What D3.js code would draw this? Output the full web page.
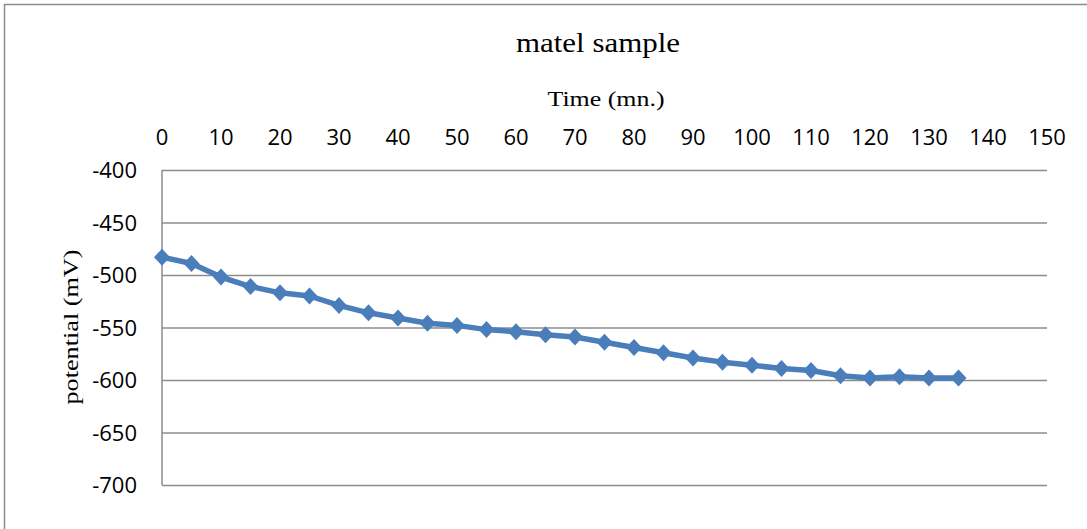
<!DOCTYPE html>
<html>
<head>
<meta charset="utf-8">
<script src="https://cdn.jsdelivr.net/npm/d3@7"></script>
<style>
  body { margin: 0; background: #fff; }
  svg { display: block; }
</style>
</head>
<body>
<svg id="chart"></svg>
<script>
// time (mn.) and measured potential (mV)
const times = [0, 5, 10, 15, 20, 25, 30, 35, 40, 45, 50, 55, 60, 65, 70,
  75, 80, 85, 90, 95, 100, 105, 110, 115, 120, 125, 130, 135];
const potentials = [-483, -489, -502, -511, -517, -520, -529, -536, -541, -546, -548, -552, -554, -557, -559,
  -564, -569, -574, -579, -583, -586, -589, -591, -596, -598, -597, -598, -598];
const xTicks = d3.range(0, 151, 10);
const yTicks = [-400, -450, -500, -550, -600, -650, -700];

const W = 1087, H = 529;
const plot = {left: 162, right: 1047, top: 170, bottom: 485};
const color = {grid: '#8c8c8c', line: '#4a7ebb', text: '#000'};

const svg = d3.select('#chart').attr('width', W).attr('height', H);

// chart frame
svg.append('rect')
    .attr('x', 4.5).attr('y', 4.5)
    .attr('width', W + 10).attr('height', H + 10)
    .attr('fill', 'none')
    .attr('stroke', color.grid)
    .attr('stroke-width', 1.5);

const x = d3.scaleLinear().domain([0, 150]).range([plot.left, plot.right]);
const y = d3.scaleLinear().domain([-700, -400]).range([plot.bottom, plot.top]);

// horizontal grid lines
svg.append('g')
    .attr('transform', `translate(${plot.left},0)`)
    .call(d3.axisLeft(y).tickValues(yTicks).tickSize(-(plot.right - plot.left)).tickFormat(''))
    .call(g => g.select('.domain').remove())
    .call(g => g.selectAll('line').attr('stroke', color.grid).attr('stroke-width', 1.5));

// y axis line
svg.append('line')
    .attr('x1', plot.left).attr('x2', plot.left)
    .attr('y1', plot.top).attr('y2', plot.bottom)
    .attr('stroke', color.grid).attr('stroke-width', 1.5);

// y tick labels
svg.append('g')
    .selectAll('text')
    .data(yTicks)
    .enter()
    .append('text')
    .attr('x', 137)
    .attr('y', d => y(d) + 8)
    .attr('text-anchor', 'end')
    .style('font-family', '"Open Sans", sans-serif')
    .style('font-size', '22px')
    .attr('fill', color.text)
    .text(d => d);

// x tick labels (axis drawn at top, labels only)
svg.append('g')
    .selectAll('text')
    .data(xTicks)
    .enter()
    .append('text')
    .attr('x', d => x(d))
    .attr('y', 145)
    .attr('text-anchor', 'middle')
    .style('font-family', '"Open Sans", sans-serif')
    .style('font-size', '22px')
    .attr('fill', color.text)
    .text(d => d);

// titles
svg.append('text')
    .attr('x', 598).attr('y', 52)
    .attr('text-anchor', 'middle')
    .attr('textLength', 164).attr('lengthAdjust', 'spacingAndGlyphs')
    .style('font-family', '"Liberation Serif", serif')
    .style('font-size', '28px')
    .text('matel sample');

svg.append('text')
    .attr('x', 606).attr('y', 106)
    .attr('text-anchor', 'middle')
    .attr('textLength', 117).attr('lengthAdjust', 'spacingAndGlyphs')
    .style('font-family', '"Liberation Serif", serif')
    .style('font-size', '22px')
    .text('Time (mn.)');

svg.append('text')
    .attr('transform', `translate(78,327) rotate(-90)`)
    .attr('text-anchor', 'middle')
    .attr('textLength', 155).attr('lengthAdjust', 'spacingAndGlyphs')
    .style('font-family', '"Liberation Serif", serif')
    .style('font-size', '22px')
    .text('potential (mV)');

// series
const pts = times.map((t, i) => [t, potentials[i]]);

svg.append('path')
    .datum(pts)
    .attr('d', d3.line().x(d => x(d[0])).y(d => y(d[1])))
    .attr('fill', 'none')
    .attr('stroke', color.line)
    .attr('stroke-width', 5.5)
    .attr('stroke-linejoin', 'round');

svg.append('g')
    .selectAll('path')
    .data(pts)
    .enter()
    .append('path')
    .attr('transform', d => `translate(${x(d[0])},${y(d[1])})`)
    .attr('d', 'M0,-8.5 L8,0 L0,8.5 L-8,0 Z')
    .attr('fill', color.line);
</script>
</body>
</html>
